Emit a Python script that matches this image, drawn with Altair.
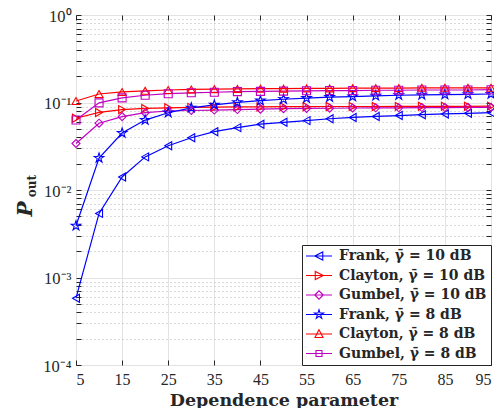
import altair as alt
import pandas as pd

# ---------------- data ----------------
dep_param = [5, 10, 15, 20, 25, 30, 35, 40, 45, 50, 55, 60, 65, 70, 75, 80, 85, 90, 95]

frank_10 = [0.00058, 0.0054, 0.0141, 0.0239, 0.032, 0.0396, 0.0464, 0.0516, 0.0565,
            0.0594, 0.0621, 0.0652, 0.0675, 0.0693, 0.0709, 0.0725, 0.074, 0.0752, 0.0765]
clayton_10 = [0.066, 0.077, 0.083, 0.0855, 0.087, 0.088, 0.0885, 0.089, 0.089,
              0.0895, 0.0895, 0.09, 0.09, 0.09, 0.0902, 0.0905, 0.0905, 0.0905, 0.091]
gumbel_10 = [0.034, 0.058, 0.069, 0.0765, 0.080, 0.081, 0.082, 0.083, 0.084,
             0.085, 0.0855, 0.086, 0.0865, 0.087, 0.087, 0.0875, 0.0875, 0.088, 0.088]
frank_8 = [0.0039, 0.0232, 0.0448, 0.063, 0.0764, 0.087, 0.094, 0.1005, 0.105,
           0.109, 0.112, 0.115, 0.117, 0.119, 0.121, 0.122, 0.123, 0.124, 0.125]
clayton_8 = [0.104, 0.125, 0.132, 0.136, 0.139, 0.141, 0.142, 0.143, 0.144,
             0.144, 0.145, 0.145, 0.146, 0.146, 0.146, 0.147, 0.147, 0.147, 0.147]
gumbel_8 = [0.063, 0.099, 0.113, 0.121, 0.126, 0.129, 0.131, 0.133, 0.134,
            0.135, 0.136, 0.137, 0.137, 0.138, 0.138, 0.139, 0.139, 0.139, 0.140]

series_names = [
    "Frank, γ̄ = 10 dB",
    "Clayton, γ̄ = 10 dB",
    "Gumbel, γ̄ = 10 dB",
    "Frank, γ̄ = 8 dB",
    "Clayton, γ̄ = 8 dB",
    "Gumbel, γ̄ = 8 dB",
]
series_values = [frank_10, clayton_10, gumbel_10, frank_8, clayton_8, gumbel_8]
series_colors = ["#0000ff", "#ff0000", "#bf00bf", "#0000ff", "#ff0000", "#bf00bf"]

x_ticks = [5, 15, 25, 35, 45, 55, 65, 75, 85, 95]
y_major = [1e-4, 1e-3, 1e-2, 1e-1, 1]
y_minor = [m * 10.0 ** e for e in range(-4, 0) for m in range(2, 10)]

# ---------------- marker shapes ----------------
STAR = ("M0,-1.25L0.28,-0.38L1.19,-0.39L0.45,0.15L0.73,1.01L0,0.48L-0.73,1.01"
        "L-0.45,0.15L-1.19,-0.39L-0.28,-0.38Z")
plot_shapes = ["triangle-left", "triangle-right", "diamond", STAR, "triangle-up", "square"]

LINE = "M-2.6,0L2.6,0"
legend_shapes = [
    LINE + "M-0.85,0L0.75,-0.8L0.75,0.8Z",
    LINE + "M0.85,0L-0.75,-0.8L-0.75,0.8Z",
    LINE + "M-0.85,0L0,-0.85L0.85,0L0,0.85Z",
    LINE + "M0,-0.95L0.21,-0.29L0.9,-0.3L0.34,0.11L0.55,0.77L0,0.36L-0.55,0.77"
           "L-0.34,0.11L-0.9,-0.3L-0.21,-0.29Z",
    LINE + "M0,-0.85L0.8,0.7L-0.8,0.7Z",
    LINE + "M-0.6,-0.6L0.6,-0.6L0.6,0.6L-0.6,0.6Z",
]

rows = []
for name, vals in zip(series_names, series_values):
    for xv, yv in zip(dep_param, vals):
        rows.append({"series": name, "param": xv, "pout": yv})
df = pd.DataFrame(rows)

# ---------------- style ----------------
TXT = "#262626"
SERIF = "Liberation Serif"
BOLD_SERIF = "DejaVu Serif"

xscale = alt.Scale(domain=[5, 95], nice=False, zero=False)
yscale = alt.Scale(type="log", domain=[1e-4, 1], nice=False)
cscale = alt.Scale(domain=series_names, range=series_colors)

exp_label = ("'10' + ['⁰','⁻¹','⁻²','⁻³','⁻⁴'][-round(log(datum.value)/LN10)]")

base = alt.Chart(df)

# lines: labelled axes + major grid
lines = base.mark_line(strokeWidth=1.2).encode(
    x=alt.X("param:Q", scale=xscale, axis=alt.Axis(
        orient="bottom", values=x_ticks, title="Dependence parameter",
        grid=True, gridColor="#e3e3e3", gridWidth=1, ticks=False, domain=False,
        labelFont=SERIF, labelFontSize=16, labelColor=TXT, labelPadding=6,
        titleFont=BOLD_SERIF, titleFontSize=17.5, titleFontWeight="bold", titleColor=TXT,
        titlePadding=4)),
    y=alt.Y("pout:Q", scale=yscale, axis=alt.Axis(
        orient="left", values=y_major, title=None, grid=True, gridColor="#e3e3e3",
        gridWidth=1, ticks=False, domain=False, labelExpr=exp_label,
        labelFont=SERIF, labelFontSize=16.5, labelColor=TXT, labelPadding=5,
        labelOffset=1)),
    color=alt.Color("series:N", scale=cscale, legend=None),
)

# points: markers + minor grid + top inner ticks
points = base.mark_point(filled=False, size=64, strokeWidth=1.1, opacity=1).encode(
    x=alt.X("param:Q", scale=xscale, axis=alt.Axis(
        orient="top", values=x_ticks, offset=-5, tickSize=5, ticks=True, tickColor=TXT,
        labels=False, domain=False, grid=False, title=None)),
    y=alt.Y("pout:Q", scale=yscale, axis=alt.Axis(
        orient="right", values=y_minor, grid=True, gridDash=[1, 3], gridColor="#b5b5b5",
        ticks=False, labels=False, domain=False, title=None)),
    color=alt.Color("series:N", scale=cscale, legend=None),
    shape=alt.Shape("series:N", scale=alt.Scale(domain=series_names, range=plot_shapes),
                    legend=None),
)

# invisible helper carrying legend + bottom/left inner ticks
legend_layer = base.mark_point(filled=False, opacity=0, strokeWidth=1.1).encode(
    x=alt.X("param:Q", scale=xscale, axis=alt.Axis(
        orient="bottom", values=x_ticks, offset=-5, tickSize=5, ticks=True, tickColor=TXT,
        labels=False, domain=False, grid=False, title=None)),
    y=alt.Y("pout:Q", scale=yscale, axis=alt.Axis(
        orient="left", values=y_major + y_minor, offset=-5, tickSize=5, ticks=True,
        tickColor=TXT, labels=False, domain=False, grid=False, title=None)),
    color=alt.Color("series:N", scale=cscale, legend=alt.Legend(
        title=None, orient="bottom-right", offset=0, symbolOpacity=1)),
    shape=alt.Shape("series:N", scale=alt.Scale(domain=series_names, range=legend_shapes),
                    legend=alt.Legend(title=None, orient="bottom-right", offset=0,
                                      symbolOpacity=1)),
)

# invisible helper carrying right inner ticks
right_ticks = base.mark_point(opacity=0).encode(
    x=alt.X("param:Q", scale=xscale, axis=None),
    y=alt.Y("pout:Q", scale=yscale, axis=alt.Axis(
        orient="right", values=y_major + y_minor, offset=-5, tickSize=5, ticks=True,
        tickColor=TXT, labels=False, domain=False, grid=False, title=None)),
)

# y title  P_out
ytitle_df = pd.DataFrame({"t": ["P"], "s": ["out"]})
p_text = alt.Chart(ytitle_df).mark_text(
    angle=270, font=BOLD_SERIF, fontSize=20, fontWeight="bold", fontStyle="italic",
    color=TXT).encode(text="t:N", x=alt.value(-50), y=alt.value(194))
out_text = alt.Chart(ytitle_df).mark_text(
    angle=270, font=BOLD_SERIF, fontSize=12, fontWeight="bold",
    color=TXT).encode(text="s:N", x=alt.value(-44), y=alt.value(171))

chart = alt.layer(lines, points, legend_layer, right_ticks, p_text, out_text).resolve_scale(
    color="independent", shape="independent"
).resolve_axis(
    x="independent", y="independent"
).properties(
    width=415, height=350,
    autosize=alt.AutoSizeParams(type="none"),
    padding={"left": 68, "top": 7, "right": 3, "bottom": 43},
).configure_view(
    stroke=TXT, strokeWidth=1
).configure_legend(
    strokeColor=TXT, fillColor="white", padding=4, cornerRadius=0,
    labelFont=BOLD_SERIF, labelFontSize=14, labelFontWeight="bold", labelColor=TXT,
    symbolSize=100, symbolStrokeWidth=1.1, symbolOffset=6, labelOffset=13,
    rowPadding=5.5, labelLimit=300
)

chart.save("out.html", embed_options={"renderer": "svg", "actions": False})
